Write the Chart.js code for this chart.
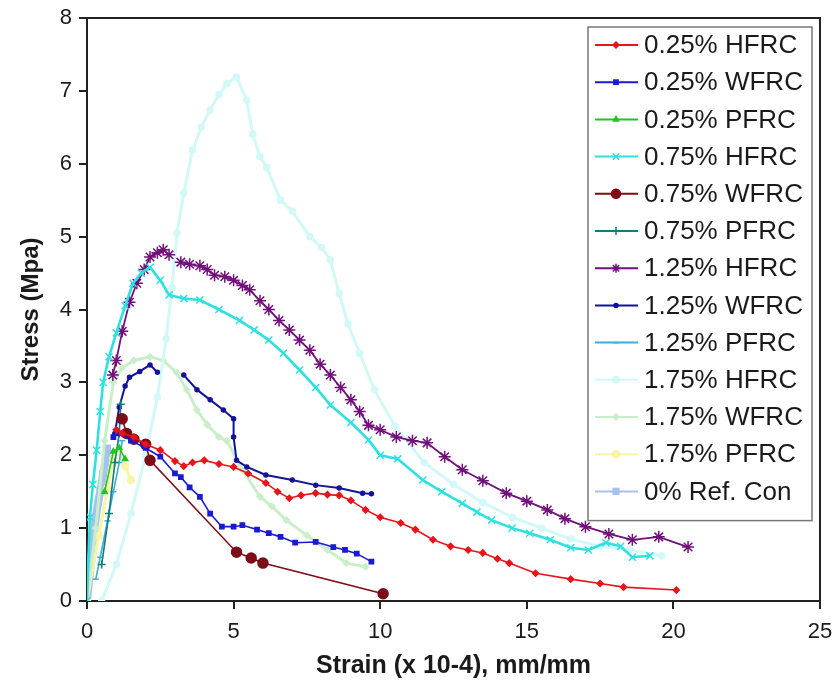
<!DOCTYPE html>
<html>
<head>
<meta charset="utf-8">
<script src="https://cdn.jsdelivr.net/npm/chart.js@4/dist/chart.umd.min.js"></script>
<style>
  body { margin: 0; background: #fff; }
  #wrap { width: 837px; height: 690px; position: relative; }
</style>
</head>
<body>
<div id="wrap"><canvas id="stress-strain"></canvas></div>
<script>
// series names, as in the legend
const seriesNames = [
  "0.25% HFRC", "0.25% WFRC", "0.25% PFRC",
  "0.75% HFRC", "0.75% WFRC", "0.75% PFRC",
  "1.25% HFRC", "1.25% WFRC", "1.25% PFRC",
  "1.75% HFRC", "1.75% WFRC", "1.75% PFRC",
  "0% Ref. Con"
];

// [strain (x 10-4), stress (MPa)]
const hfrc025 = [[1.0,2.35],[1.2,2.3],[1.6,2.25],[2.0,2.15],[2.5,2.07],[3.0,1.92],[3.3,1.85],[3.6,1.9],[4.0,1.93],
  [4.5,1.88],[5.0,1.84],[5.5,1.75],[6.1,1.62],[6.5,1.5],[6.9,1.41],[7.3,1.45],[7.8,1.48],[8.2,1.46],[8.6,1.45],
  [9.0,1.38],[9.5,1.25],[10.0,1.15],[10.7,1.07],[11.2,0.98],[11.8,0.84],[12.4,0.75],[13.0,0.7],[13.5,0.66],
  [14.0,0.58],[14.4,0.52],[15.3,0.38],[16.5,0.3],[17.5,0.24],[18.3,0.19],[20.1,0.15]];
const wfrc025 = [[0.9,2.25],[1.1,2.3],[1.5,2.2],[2.0,2.1],[2.5,1.98],[3.0,1.75],[3.2,1.7],[3.5,1.56],[3.85,1.43],
  [4.2,1.2],[4.6,1.02],[5.0,1.02],[5.3,1.04],[5.8,0.98],[6.2,0.93],[6.6,0.88],[7.1,0.8],[7.8,0.81],[8.4,0.74],
  [8.8,0.7],[9.2,0.65],[9.7,0.54]];
const pfrc025 = [[0.6,1.5],[0.9,2.05],[1.1,2.1],[1.3,1.95]];
const hfrc075 = [[0,0],[0.1,1.15],[0.2,1.6],[0.33,2.07],[0.45,2.6],[0.55,3.0],[0.75,3.35],[1.0,3.68],[1.3,4.05],
  [1.57,4.36],[1.85,4.5],[2.15,4.58],[2.5,4.4],[2.8,4.2],[3.3,4.15],[3.85,4.13],[4.5,4.0],[5.2,3.85],[5.7,3.72],
  [6.2,3.58],[6.7,3.4],[7.25,3.17],[7.8,2.93],[8.3,2.69],[9.0,2.45],[9.6,2.21],[10.0,2.0],[10.6,1.95],[11.45,1.66],
  [12.1,1.5],[12.8,1.34],[13.3,1.22],[13.8,1.11],[14.5,1.0],[15.1,0.93],[15.8,0.84],[16.5,0.73],[17.1,0.7],
  [17.7,0.8],[18.2,0.75],[18.6,0.6],[19.2,0.62]];
const wfrc075 = [[1.2,2.5],[1.35,2.3],[1.6,2.22],[2.0,2.15],[2.15,1.93],[5.1,0.67],[5.6,0.59],[6.0,0.52],[10.1,0.1]];
const pfrc075 = [[0.5,0.5],[0.75,1.2],[0.95,1.9],[1.1,2.3],[1.15,2.7]];
const hfrc125 = [[0.88,3.1],[1.0,3.3],[1.2,3.7],[1.45,4.1],[1.7,4.36],[1.95,4.55],[2.15,4.72],[2.4,4.78],[2.6,4.82],
  [2.8,4.75],[3.0,null],[3.2,4.65],[3.5,4.62],[3.85,4.6],[4.1,4.55],[4.35,4.47],[4.7,4.45],[5.0,4.4],[5.3,4.33],
  [5.55,4.27],[5.9,4.12],[6.2,4.0],[6.55,3.85],[6.9,3.72],[7.25,3.58],[7.6,3.44],[7.95,3.25],[8.3,3.1],[8.65,2.93],
  [9.0,2.76],[9.3,2.6],[9.6,2.41],[10.0,2.35],[10.55,2.25],[11.1,2.2],[11.6,2.17],[12.2,1.98],[12.8,1.8],
  [13.5,1.65],[14.3,1.48],[15.0,1.37],[15.7,1.25],[16.3,1.13],[17.0,1.02],[17.8,0.92],[18.6,0.84],[19.5,0.88],
  [20.5,0.74]];
const wfrc125 = [[0.95,2.3],[1.1,2.66],[1.3,2.95],[1.45,3.07],[1.8,3.15],[2.15,3.24],[2.4,3.14],[2.8,null],
  [3.3,3.1],[3.75,2.9],[4.2,2.76],[4.65,2.62],[5.0,2.5],[5.0,2.25],[5.1,1.93],[5.45,1.84],[6.1,1.73],[7.0,1.66],
  [7.8,1.59],[8.6,1.55],[9.4,1.48],[9.7,1.47]];
const pfrc125 = [[0.3,0.3],[0.45,0.6],[0.7,1.1],[0.9,1.5],[1.1,1.9],[1.2,2.2]];
const hfrc175 = [[0.5,0],[1.0,0.5],[1.5,1.2],[2.0,2.0],[2.4,2.8],[2.7,3.6],[2.9,4.3],[3.07,5.05],[3.3,5.6],
  [3.6,6.19],[3.9,6.5],[4.2,6.74],[4.5,6.95],[4.77,7.1],[5.1,7.19],[5.45,6.87],[5.65,6.4],[5.9,6.1],[6.13,5.95],
  [6.6,5.5],[7.0,5.35],[7.6,5.0],[8.0,4.85],[8.3,4.68],[8.6,4.22],[8.9,3.8],[9.3,3.4],[9.8,2.9],[10.5,2.4],
  [11.5,1.9],[12.5,1.6],[13.5,1.35],[14.5,1.15],[15.5,1.0],[16.5,0.85],[17.5,0.75],[18.5,0.7],[19.6,0.62]];
const wfrc175 = [[0,0],[0.3,1.0],[0.6,2.2],[0.9,3.0],[1.2,3.2],[1.6,3.3],[2.15,3.35],[2.6,3.3],[3.07,3.13],
  [3.4,2.9],[3.75,2.62],[4.1,2.42],[4.5,2.25],[4.77,2.2],[5.3,1.8],[5.9,1.43],[6.3,1.3],[6.8,1.11],[7.5,0.9],
  [8.2,0.7],[8.85,0.52],[9.5,0.47]];
const pfrc175 = [[0,0],[0.4,0.9],[0.7,1.55],[0.9,1.95],[1.1,2.05],[1.3,1.85],[1.5,1.66]];
const refCon = [[0,0],[0.08,0.3],[0.15,0.6],[0.22,0.9],[0.3,1.15],[0.38,1.35],[0.45,1.5],[0.55,1.75],
  [0.62,1.9],[0.7,2.1]];

const allSeries = [hfrc025, wfrc025, pfrc025, hfrc075, wfrc075, pfrc075,
  hfrc125, wfrc125, pfrc125, hfrc175, wfrc175, pfrc175, refCon];

const xTicks = [0, 5, 10, 15, 20, 25];
const yTicks = [0, 1, 2, 3, 4, 5, 6, 7, 8];

// look of each series: colour, marker, marker size, line width
const looks = [
  { color: "#e8141c", marker: "rectRot",  r: 3,   w: 1.6 },
  { color: "#1a1ad2", marker: "rect",     r: 3,   w: 1.6 },
  { color: "#22c422", marker: "triangle", r: 3,   w: 1.6 },
  { color: "#2fe0e0", marker: "crossRot", r: 5,   w: 2.6 },
  { color: "#7d0c16", marker: "circle",   r: 5,   w: 1.6 },
  { color: "#147a7a", marker: "cross",    r: 4,   w: 1.6 },
  { color: "#70107a", marker: "star",     r: 6,   w: 1.8 },
  { color: "#12129a", marker: "circle",   r: 2,   w: 2 },
  { color: "#3aaed6", marker: "line",     r: 3,   w: 1.6 },
  { color: "#d2f8f8", marker: "circle",   r: 3,   w: 3 },
  { color: "#c9efc9", marker: "rectRot",  r: 3,   w: 3 },
  { color: "#f8f4a8", marker: "circle",   r: 3.5, w: 3 },
  { color: "#a8c2ee", marker: "rect",     r: 4,   w: 8 }
];

Chart.defaults.font.family = "'Liberation Sans', Arial, sans-serif";
Chart.defaults.color = "#1a1a1a";

const datasets = allSeries.map((pts, i) => ({
  label: seriesNames[i],
  data: pts.map(([x, y]) => ({ x: x, y: y })),
  borderColor: looks[i].color,
  backgroundColor: looks[i].color,
  borderWidth: looks[i].w,
  pointStyle: looks[i].marker,
  pointRadius: looks[i].r,
  pointBorderWidth: 1.5,
  pointHoverRadius: looks[i].r,
  tension: 0,
  spanGaps: false
}));

// plot frame (all four sides)
const frame = {
  id: "frame",
  beforeDatasetsDraw(chart) {
    const a = chart.chartArea, ctx = chart.ctx;
    ctx.save();
    ctx.strokeStyle = "#222";
    ctx.lineWidth = 2;
    ctx.strokeRect(a.left, a.top, a.right - a.left, a.bottom - a.top);
    ctx.restore();
  }
};

// boxed legend inside the plot, top right
const boxLegend = {
  id: "boxLegend",
  afterDraw(chart) {
    const ctx = chart.ctx;
    const width = 224, rowH = 37.2;
    const left = chart.chartArea.right - 8 - width, top = 27;
    const height = rowH * chart.data.datasets.length + 10;
    ctx.save();
    ctx.fillStyle = "#fff";
    ctx.fillRect(left, top, width, height);
    ctx.strokeStyle = "#777";
    ctx.lineWidth = 1.5;
    ctx.strokeRect(left, top, width, height);
    ctx.font = "26px 'Liberation Sans', Arial, sans-serif";
    ctx.textBaseline = "middle";
    chart.data.datasets.forEach((ds, i) => {
      const y = top + 18 + i * rowH;
      ctx.strokeStyle = ds.borderColor;
      ctx.fillStyle = ds.borderColor;
      ctx.lineWidth = 2;
      ctx.beginPath();
      ctx.moveTo(left + 7, y);
      ctx.lineTo(left + 50, y);
      ctx.stroke();
      if (Chart.helpers && Chart.helpers.drawPoint) {
        ctx.lineWidth = 1.5;
        Chart.helpers.drawPoint(ctx, { pointStyle: ds.pointStyle, radius: Math.min(ds.pointRadius, 4.5), rotation: 0, borderWidth: 1.5 }, left + 28, y);
      }
      ctx.fillStyle = "#1a1a1a";
      ctx.fillText(ds.label, left + 56, y + 1);
    });
    ctx.restore();
  }
};

new Chart(document.getElementById("stress-strain"), {
  type: "line",
  data: { datasets: datasets },
  options: {
    responsive: true,
    maintainAspectRatio: false,
    animation: false,
    layout: { padding: { top: 18, right: 17, left: 0, bottom: 0 } },
    plugins: { legend: { display: false }, tooltip: { enabled: false } },
    scales: {
      x: {
        type: "linear",
        min: 0,
        max: 25,
        afterBuildTicks: s => { s.ticks = xTicks.map(v => ({ value: v })); },
        afterFit: s => { s.height = 89; s.paddingLeft = 0; s.paddingRight = 0; },
        grid: { drawOnChartArea: false, tickLength: 8, color: "#222", lineWidth: 2 },
        border: { color: "#222", width: 2 },
        ticks: { font: { size: 22 }, padding: 10, maxRotation: 0 },
        title: { display: true, text: "Strain (x 10-4), mm/mm", font: { size: 25, weight: "bold" }, padding: { top: 0, bottom: 9 } }
      },
      y: {
        min: 0,
        max: 8,
        afterBuildTicks: s => { s.ticks = yTicks.map(v => ({ value: v })); },
        afterFit: s => { s.width = 87; s.paddingTop = 0; s.paddingBottom = 0; },
        grid: { drawOnChartArea: false, tickLength: 8, color: "#222", lineWidth: 2 },
        border: { color: "#222", width: 2 },
        ticks: { font: { size: 22 }, padding: 7 },
        title: { display: true, text: "Stress (Mpa)", font: { size: 24, weight: "bold" }, padding: { top: 17, bottom: 0 } }
      }
    }
  },
  plugins: [frame, boxLegend]
});
</script>
</body>
</html>
